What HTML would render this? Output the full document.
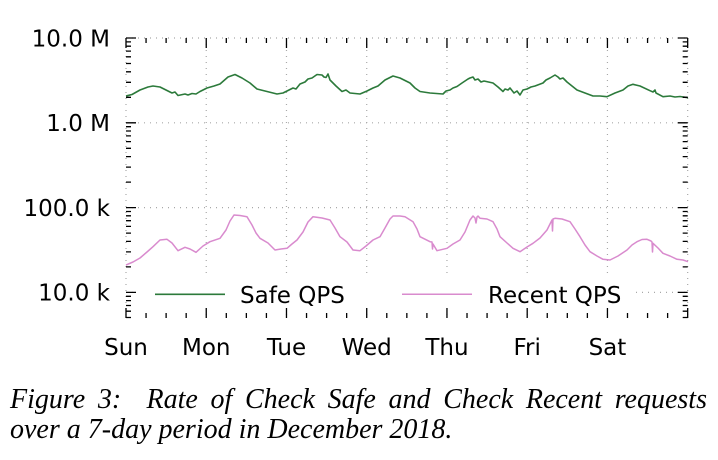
<!DOCTYPE html>
<html><head><meta charset="utf-8"><style>
html,body{margin:0;padding:0;background:#fff;}
body{width:718px;height:460px;position:relative;overflow:hidden;}
svg{position:absolute;left:0;top:0;}
.cap{position:absolute;left:10px;width:697px;font-family:"Liberation Serif",serif;font-style:italic;font-size:28px;line-height:30px;color:#000;white-space:nowrap;}
.l1{top:385px;text-align:justify;text-align-last:justify;white-space:normal;}
.l2{top:415px;}
</style></head><body>
<svg width="718" height="380" viewBox="0 0 718 380" xmlns="http://www.w3.org/2000/svg">
<g stroke="#a8a8a8" stroke-width="1.2" stroke-dasharray="1 5" fill="none">
<path d="M126 38H688M126 122.8H688M126 207.6H688M126 292.4H688"/>
<path d="M126 38V318M206.24 38V318M286.48 38V318M366.72 38V318M446.96 38V318M527.2 38V318M607.44 38V318M687.68 38V318"/>
</g>
<polyline fill="none" stroke="#2c7a3b" stroke-width="1.6" stroke-linejoin="round" points="126,96 132,94.5 140,90 148,87 153,86 160,87 168,91 172,93 175,92 178,95.5 185,94 188,95 192,93.5 196,94 200,91.5 207,88 214,86 220,84 228,77 235,74.5 242,78 250,83 257,89 265,91 277,94 283,93 287,91 293,88 296,89 300,84 305,82 308,79 312,78 317,74.5 322,75 324,77 326,77.5 328,74 330,80 336,86 342,91.5 346,90 350,93 360,94 367,91 373,88 378,86 385,80 393,76 400,78 410,83 415,88 420,91.5 430,93 443,94 446,91 450,90 453,88 457,86.5 462,83 465,81 468,79 470,78 473,77 475,80 478,79 481,82 484,81 493,83 498,87 503,91.5 505,89 508,90 510,88 514,93 517,91 520,95 523,90 527,89 531,87 535,86 543,83 546,80 550,78 555,75 558,77 560,79 563,78 567,82 577,90 585,93 593,96 600,96 607,96.7 615,93 623,90 628,86 633,84.3 640,86 650,90.7 653,92 655,90 656,93 663,96.7 670,96 675,97 680,96.5 688,97.7"/>
<polyline fill="none" stroke="#d98bce" stroke-width="1.5" stroke-linejoin="round" points="126,265 133,262 140,258 147,252 153,246.7 160,240 167,239.3 172,243 178,250.7 185,247.3 190,249 196,252.3 203,246 210,241.7 220,238.3 226,230 230,221 234,215 240,215.5 247,216.7 252,225 256,233 260,238.3 268,243 275,250 281,249 287,248.3 292,244 297,240 303,232 308,222 313,216.7 322,218 330,220 335,228 340,236.7 347,242 353,250 360,250.7 366,246 373,240 380,236.7 385,228 390,219 393,216 400,216 405,216.7 413,221.7 417,229 420,236.7 430,241.7 432,242 432.5,249 433,244 437,250.7 447,248.3 453,244 460,240 465,232 470,220 473,216 475,218 476,223 477,217 478,216 480,218.3 487,219 493,221.7 497,229 500,236.7 507,243 513,248.3 520,251.7 527,247 533,243.3 540,238 547,230 551,222 552,220 552.5,231 553,219 555,218.3 562,219 570,221.7 575,229 580,236.7 585,245 590,251.7 597,256 603,259.3 610,260 618,256 627,250 632,245 637,241.7 642,239.5 647,239.3 651,241 652,242 652.5,252 653,243.3 658,248 663,253.3 670,256 677,259.3 683,260 688,261.7"/>
<rect x="138" y="278" width="494" height="31" fill="#fff"/>
<line x1="155" y1="294.3" x2="225" y2="294.3" stroke="#2c7a3b" stroke-width="1.6"/>
<line x1="402" y1="294.3" x2="472" y2="294.3" stroke="#d98bce" stroke-width="1.5"/>
<g font-family="'DejaVu Sans','Liberation Sans',sans-serif" font-size="23" fill="#000">
<text x="240" y="303">Safe QPS</text>
<text x="488" y="303">Recent QPS</text>
<g text-anchor="end">
<text x="110" y="46.3">10.0 M</text>
<text x="110" y="131.1">1.0 M</text>
<text x="110" y="215.9">100.0 k</text>
<text x="110" y="300.7">10.0 k</text>
</g>
<g text-anchor="middle">
<text x="126" y="355">Sun</text>
<text x="206.24" y="355">Mon</text>
<text x="286.48" y="355">Tue</text>
<text x="366.72" y="355">Wed</text>
<text x="446.96" y="355">Thu</text>
<text x="527.2" y="355">Fri</text>
<text x="607.44" y="355">Sat</text>
</g>
</g>
<g stroke="#000" stroke-width="1.3" fill="none">
<!-- left major -->
<path d="M126 38h10M126 122.8h10M126 207.6h10M126 292.4h10"/>
<!-- right major -->
<path d="M687.7 38h-10M687.7 122.8h-10M687.7 207.6h-10M687.7 292.4h-10"/>
<!-- left minor -->
<path d="M126 97.3h5M126 82.3h5M126 71.8h5M126 63.5h5M126 56.8h5M126 51.1h5M126 46.2h5M126 41.9h5
M126 182.1h5M126 167.1h5M126 156.6h5M126 148.3h5M126 141.6h5M126 135.9h5M126 131h5M126 126.7h5
M126 266.9h5M126 251.9h5M126 241.4h5M126 233.1h5M126 226.4h5M126 220.7h5M126 215.8h5M126 211.5h5
M126 317.5h5M126 311.2h5M126 305.5h5M126 300.6h5M126 296.3h5"/>
<!-- right minor -->
<path d="M687.7 97.3h-5M687.7 82.3h-5M687.7 71.8h-5M687.7 63.5h-5M687.7 56.8h-5M687.7 51.1h-5M687.7 46.2h-5M687.7 41.9h-5
M687.7 182.1h-5M687.7 167.1h-5M687.7 156.6h-5M687.7 148.3h-5M687.7 141.6h-5M687.7 135.9h-5M687.7 131h-5M687.7 126.7h-5
M687.7 266.9h-5M687.7 251.9h-5M687.7 241.4h-5M687.7 233.1h-5M687.7 226.4h-5M687.7 220.7h-5M687.7 215.8h-5M687.7 211.5h-5
M687.7 317.5h-5M687.7 311.2h-5M687.7 305.5h-5M687.7 300.6h-5M687.7 296.3h-5"/>
<!-- top major -->
<path d="M126 38v10M206.24 38v10M286.48 38v10M366.72 38v10M446.96 38v10M527.2 38v10M607.44 38v10M687.68 38v10"/>
<!-- bottom major -->
<path d="M126 318v-10M206.24 318v-10M286.48 318v-10M366.72 318v-10M446.96 318v-10M527.2 318v-10M607.44 318v-10M687.68 318v-10"/>
<!-- top minor -->
<path d="M146.06 38v5M166.12 38v5M186.18 38v5M226.3 38v5M246.36 38v5M266.42 38v5M306.54 38v5M326.6 38v5M346.66 38v5M386.78 38v5M406.84 38v5M426.9 38v5M467.02 38v5M487.08 38v5M507.14 38v5M547.26 38v5M567.32 38v5M587.38 38v5M627.5 38v5M647.56 38v5M667.62 38v5"/>
<!-- bottom minor -->
<path d="M146.06 318v-5M166.12 318v-5M186.18 318v-5M226.3 318v-5M246.36 318v-5M266.42 318v-5M306.54 318v-5M326.6 318v-5M346.66 318v-5M386.78 318v-5M406.84 318v-5M426.9 318v-5M467.02 318v-5M487.08 318v-5M507.14 318v-5M547.26 318v-5M567.32 318v-5M587.38 318v-5M627.5 318v-5M647.56 318v-5M667.62 318v-5"/>
</g>
</svg>
<div class="cap l1">Figure 3:&nbsp; Rate of Check Safe and Check Recent requests</div>
<div class="cap l2">over a 7-day period in December 2018.</div>
</body></html>
